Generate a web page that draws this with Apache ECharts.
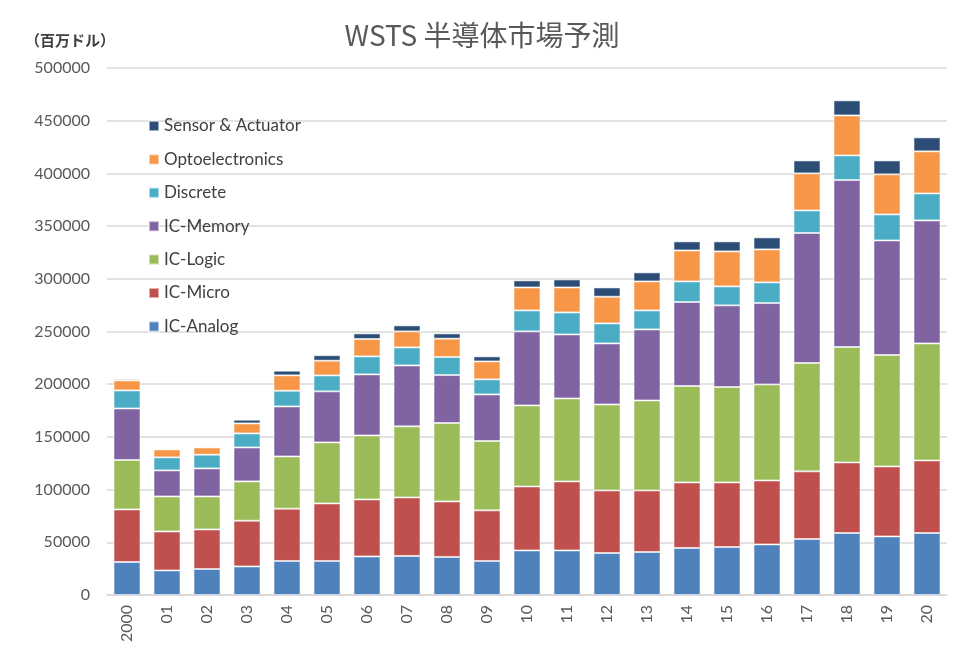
<!DOCTYPE html>
<html>
<head>
<meta charset="utf-8">
<script src="https://cdn.jsdelivr.net/npm/echarts@6/dist/echarts.min.js"></script>
<style>html,body{margin:0;padding:0;background:#fff}#c{width:964px;height:664px}</style>
</head>
<body>
<div id="c"></div>
<script>
const categories = ['2000','01','02','03','04','05','06','07','08','09','10','11','12','13','14','15','16','17','18','19','20'];
const icAnalog   = [31300,23300,24700,27100,32300,32300,36600,37000,36100,32300,42300,42300,39800,40800,44600,45500,48000,53100,58800,55600,58800];
const icMicro    = [49900,37000,37500,43400,49600,54600,54100,55600,52700,48000,60700,65500,59400,58400,62200,61300,60700,64200,67000,66400,68900];
const icLogic    = [46900,33200,31300,37300,49600,57900,60700,67400,74400,65800,76900,78700,81600,85400,91500,90500,91100,102800,109500,105700,111000];
const icMemory   = [48900,24700,26600,32200,47400,48400,57900,57800,45500,44200,70200,60700,57900,67400,79700,77500,77200,123400,158400,108700,116700];
const discrete   = [17100,12400,13000,13300,14900,15100,17100,17100,17100,14300,19900,20900,19000,18000,19500,18000,19600,21400,23400,24700,25600];
const opto       = [9500,7500,6900,9500,14600,14000,16500,15200,17400,17000,21800,23700,25300,27500,29400,33200,31300,35100,37900,38000,39900];
const sensor     = [1300,900,1000,3500,4400,5200,5300,5700,5000,4800,6700,7600,8800,8600,8600,9500,11400,12300,14300,13200,13300];
const yTicks = [0,50000,100000,150000,200000,250000,300000,350000,400000,450000,500000];

const seriesDefs = [
  ['IC-Analog', icAnalog, '#4F81BD'],
  ['IC-Micro', icMicro, '#C0504D'],
  ['IC-Logic', icLogic, '#9BBB59'],
  ['IC-Memory', icMemory, '#8064A2'],
  ['Discrete', discrete, '#4BACC6'],
  ['Optoelectronics', opto, '#F79646'],
  ['Sensor & Actuator', sensor, '#2C4D75']
];

const chart = echarts.init(document.getElementById('c'));
chart.setOption({
  animation: false,
  backgroundColor: '#fff',
  title: [
    {text: 'WSTS 半導体市場予測', left: 'center', top: 16,
     textStyle: {fontFamily: '"Noto Sans CJK JP", sans-serif', fontSize: 28, fontWeight: 'normal', color: '#595959'}},
    {text: '（百万ドル）', left: 20, top: 28,
     textStyle: {fontFamily: '"Noto Sans CJK JP", sans-serif', fontSize: 15, fontWeight: 'bold', color: '#404040'}}
  ],
  legend: {
    orient: 'vertical', left: 143, top: 112,
    data: seriesDefs.map(s => s[0]).reverse(),
    icon: 'rect', itemWidth: 10, itemHeight: 10, itemGap: 15.4,
    textStyle: {fontFamily: 'Lato, sans-serif', fontSize: 17, color: '#404040', lineHeight: 18}
  },
  grid: {left: 107, right: 17, top: 68, bottom: 69},
  xAxis: {
    type: 'category', data: categories,
    axisLine: {lineStyle: {color: '#d9d9d9', width: 1.5}},
    axisTick: {show: false},
    axisLabel: {rotate: 90, margin: 10, fontFamily: 'Lato, sans-serif', fontSize: 16, color: '#595959'}
  },
  yAxis: {
    type: 'value', min: yTicks[0], max: yTicks[yTicks.length-1], interval: 50000,
    axisLine: {show: false}, axisTick: {show: false},
    splitLine: {lineStyle: {color: '#d9d9d9', width: 1.5}},
    axisLabel: {margin: 17, fontFamily: 'Lato, sans-serif', fontSize: 16, color: '#595959',
      formatter: v => String(v)}
  },
  series: seriesDefs.map(s => ({
    name: s[0], type: 'bar', stack: 'total', data: s[1],
    barWidth: 27,
    itemStyle: {color: s[2], borderColor: 'rgba(255,255,255,0.55)', borderWidth: 1}
  }))
});
</script>
</body>
</html>
